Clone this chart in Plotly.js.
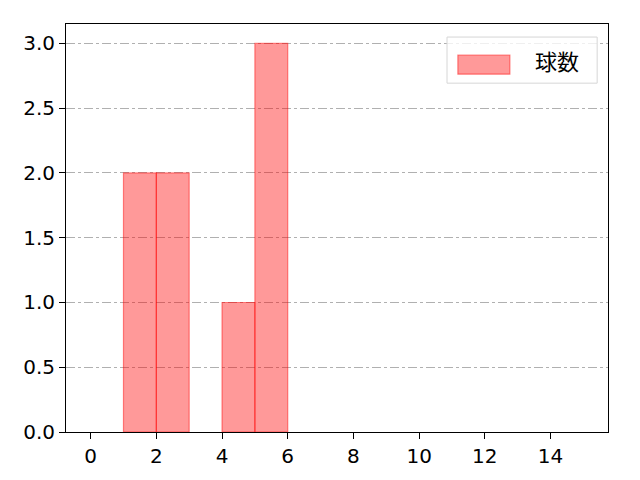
<!DOCTYPE html>
<html>
<head>
<meta charset="utf-8">
<script src="https://cdn.plot.ly/plotly-3.0.1.min.js"></script>
<style>
  body { margin: 0; background: #fff; }
  #canvas { width: 640px; height: 480px; }
</style>
</head>
<body>
<div id="canvas"></div>
<script>
// histogram bins (left edge) and counts
const binStarts = [1, 2, 4, 5];
const counts = [2, 2, 1, 3];
const binWidth = 1;
const seriesName = "球数";

const FONT = "DejaVu Sans, Noto Sans CJK JP, sans-serif";
const CJK_FONT = "Noto Sans CJK JP, sans-serif";
const BAR_FILL = "rgba(255,0,0,0.4)";
const BAR_EDGE = "rgba(255,0,0,0.45)";

var getPlotData = () => [{
    type: "bar",
    x: binStarts.map((b) => b + binWidth / 2),
    y: counts,
    width: binStarts.map(() => binWidth),
    name: seriesName,
    marker: {
        color: BAR_FILL,
        line: { color: BAR_EDGE, width: 1.2 },
    },
}];

// matplotlib-like legend box drawn in paper coords
var getLegendShapes = () => [
    {
        type: "rect", xref: "paper", yref: "paper",
        x0: 0.703, x1: 0.980, y0: 0.855, y1: 0.968,
        fillcolor: "rgba(255,255,255,0.8)",
        line: { color: "#d6d6d6", width: 1 },
    },
    {
        type: "rect", xref: "paper", yref: "paper",
        x0: 0.723, x1: 0.819, y0: 0.877, y1: 0.924,
        fillcolor: BAR_FILL,
        line: { color: BAR_EDGE, width: 1.2 },
    },
];

var getPlotLayout = () => ({
    width: 640,
    height: 480,
    margin: { l: 66, r: 32, t: 24, b: 48 },
    paper_bgcolor: "#fff",
    plot_bgcolor: "#fff",
    font: { family: FONT, size: 20, color: "#000" },
    bargap: 0,
    showlegend: false,
    xaxis: {
        range: [-0.75, 15.75],
        tickvals: [0, 2, 4, 6, 8, 10, 12, 14],
        ticks: "outside",
        ticklen: 6,
        tickcolor: "#000",
        showgrid: false,
        zeroline: false,
        showline: true,
        linecolor: "#000",
        linewidth: 1,
        mirror: true,
        tickfont: { size: 20 },
    },
    yaxis: {
        range: [0, 3.15],
        tickvals: [0, 0.5, 1, 1.5, 2, 2.5, 3],
        tickformat: ".1f",
        ticks: "outside",
        ticklen: 6,
        tickcolor: "#000",
        showgrid: true,
        gridcolor: "#b0b0b0",
        griddash: "dashdot",
        gridwidth: 1,
        zeroline: false,
        showline: true,
        linecolor: "#000",
        linewidth: 1,
        mirror: true,
        tickfont: { size: 20 },
    },
    shapes: getLegendShapes(),
    annotations: [{
        xref: "paper", yref: "paper",
        x: 0.862, y: 0.912,
        xanchor: "left", yanchor: "middle",
        text: seriesName,
        showarrow: false,
        font: { family: CJK_FONT, size: 22 },
    }],
});

Plotly.newPlot("canvas", getPlotData(), getPlotLayout(), { staticPlot: true });
</script>
</body>
</html>
